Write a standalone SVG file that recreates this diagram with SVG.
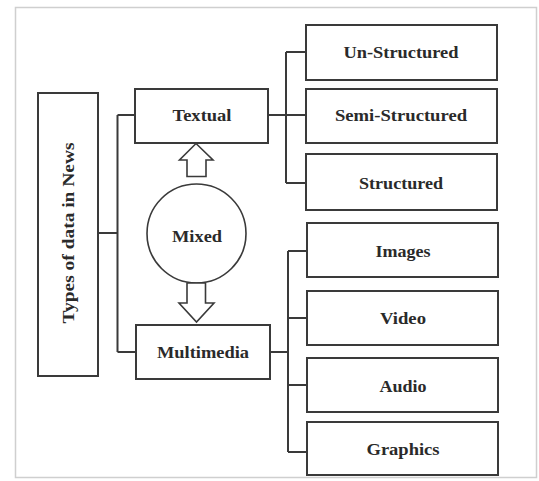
<svg xmlns="http://www.w3.org/2000/svg" width="539" height="481" viewBox="0 0 539 481">
<style>
.box{fill:#fff;stroke:#3a3a3a;stroke-width:2}
.ln{fill:none;stroke:#3a3a3a;stroke-width:2}
.arr{fill:#fff;stroke:#3a3a3a;stroke-width:1.6;stroke-linejoin:miter}
text{font-family:"Liberation Serif","Times New Roman",serif;font-weight:bold;font-size:16px;fill:#2a2a2a;text-anchor:middle;dominant-baseline:central}
</style>
<rect x="0" y="0" width="539" height="481" fill="#fff"/>
<rect x="15.5" y="7.5" width="521" height="470" fill="none" stroke="#cfcfcf" stroke-width="1.5"/>
<g id="connectors">
<path class="ln" d="M98 233 H117.5 M117.5 115 V352 M117.5 115 H135 M117.5 352 H136"/>
<path class="ln" d="M268 115 H306 M286 52 V183 M286 52 H306 M286 183 H306"/>
<path class="ln" d="M270 352 H288 M288 251 V452 M288 251 H307 M288 318 H307 M288 385 H307 M288 452 H307"/>
</g>
<g id="root"><rect class="box" x="38" y="93" width="60" height="283"/><text transform="translate(68 233) rotate(-90)" textLength="181" lengthAdjust="spacingAndGlyphs">Types of data in News</text></g>
<g id="textual"><rect class="box" x="135" y="89" width="133" height="54"/><text x="202" y="115" textLength="59" lengthAdjust="spacingAndGlyphs">Textual</text></g>
<g id="multimedia"><rect class="box" x="136" y="325" width="134" height="54"/><text x="203" y="352" textLength="92" lengthAdjust="spacingAndGlyphs">Multimedia</text></g>
<g id="mixed"><circle cx="196.5" cy="233.5" r="49.5" fill="#fff" stroke="#3a3a3a" stroke-width="1.6"/><text x="197" y="236" textLength="50" lengthAdjust="spacingAndGlyphs">Mixed</text></g>
<g id="arrow-up"><path class="arr" d="M196 143.5 L213 160 L206 160 L206 176.5 L187 176.5 L187 160 L179.5 160 Z"/></g>
<g id="arrow-down"><path class="arr" d="M187 283 L205.5 283 L205.5 303 L214 303 L196.5 322 L179 303 L187 303 Z"/></g>
<g id="unstructured"><rect class="box" x="306" y="25" width="191" height="55"/><text x="401" y="52" textLength="115" lengthAdjust="spacingAndGlyphs">Un-Structured</text></g>
<g id="semistructured"><rect class="box" x="306" y="89" width="191" height="54"/><text x="401" y="115" textLength="132" lengthAdjust="spacingAndGlyphs">Semi-Structured</text></g>
<g id="structured"><rect class="box" x="306" y="154" width="191" height="56"/><text x="401" y="183" textLength="84" lengthAdjust="spacingAndGlyphs">Structured</text></g>
<g id="images"><rect class="box" x="307" y="223" width="191" height="54"/><text x="403" y="251" textLength="55" lengthAdjust="spacingAndGlyphs">Images</text></g>
<g id="video"><rect class="box" x="307" y="291" width="191" height="54"/><text x="403" y="318" textLength="46" lengthAdjust="spacingAndGlyphs">Video</text></g>
<g id="audio"><rect class="box" x="307" y="358" width="191" height="54"/><text x="403" y="386" textLength="47" lengthAdjust="spacingAndGlyphs">Audio</text></g>
<g id="graphics"><rect class="box" x="307" y="422" width="191" height="53"/><text x="403" y="449" textLength="73" lengthAdjust="spacingAndGlyphs">Graphics</text></g>
</svg>
